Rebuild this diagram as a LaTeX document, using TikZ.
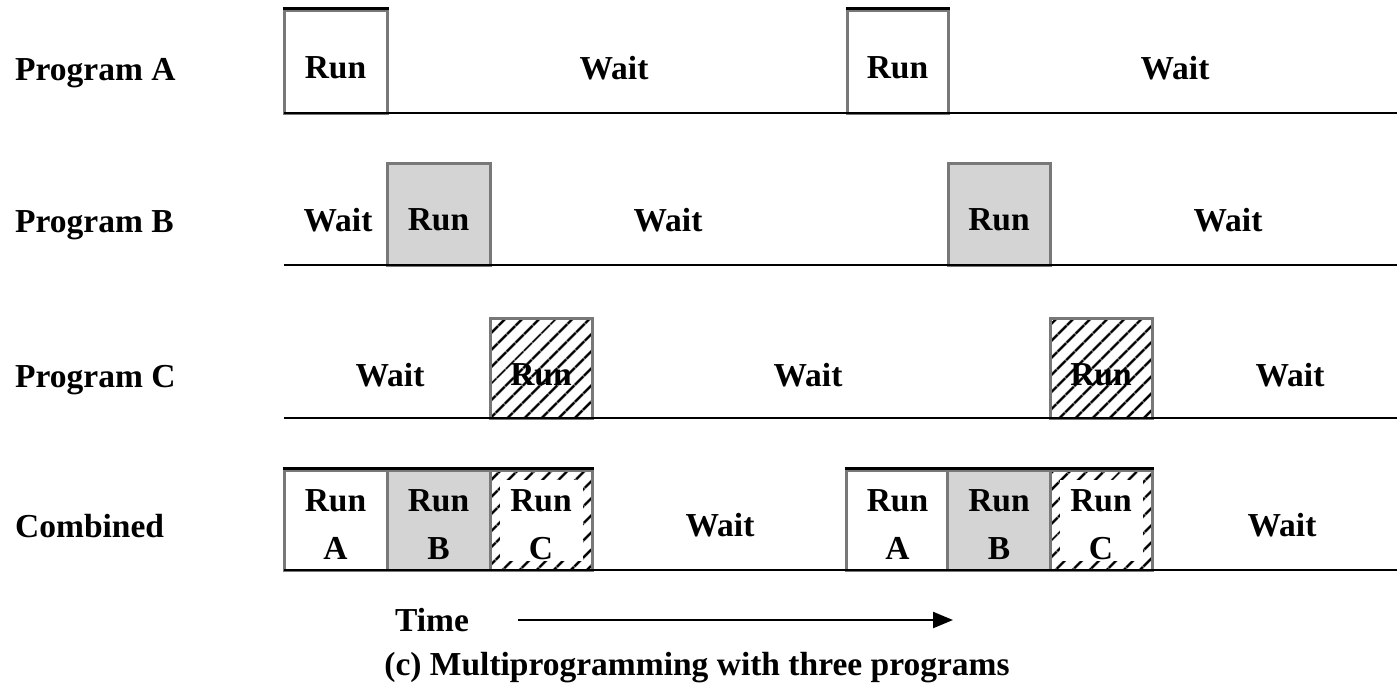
\documentclass[tikz,border=0pt]{standalone}
\usepackage{fontspec}
\setmainfont{Liberation Serif}
\usetikzlibrary{patterns.meta,arrows.meta}
\definecolor{edgegray}{RGB}{120,120,120}
\definecolor{fillgray}{RGB}{212,212,212}
\begin{document}
\begin{tikzpicture}[x=1pt,y=-1pt,
  lbl/.style={font=\fontsize{33.5}{48}\selectfont\bfseries, inner sep=0pt, align=center},
  runbox/.style={draw=edgegray, line width=3pt, minimum height=102pt, minimum width=103pt, inner sep=0pt},
  graybox/.style={runbox, fill=fillgray},
  hatchbox/.style={runbox, pattern={Lines[angle=45,distance=13pt,line width=2.8pt]}},
  base/.style={line width=2.5pt, black},
  topline/.style={line width=3.5pt, black}
]
\useasboundingbox (0,0) rectangle (1397,697);

% row labels
\node[lbl, anchor=base west] (la) at (15,80) {Program A};
\node[lbl, anchor=base west] (lb) at (15,232) {Program B};
\node[lbl, anchor=base west] (lc) at (15,387) {Program C};
\node[lbl, anchor=base west] (ld) at (15,537) {Combined};

% Row A
\node[runbox, minimum height=103pt] (a1) at (335.5,61.5) {};
\node[runbox, minimum height=103pt, minimum width=101pt] (a2) at (897.5,61.5) {};
\draw[topline] (a1.north west) -- (a1.north east);
\draw[topline] (a2.north west) -- (a2.north east);
\node[lbl] (a1t) at (335.5,68) {Run};
\node[lbl] (a2t) at (897.5,68) {Run};
\coordinate (aL) at (284,113);
\coordinate (aR) at (1397,113);
\draw[base] (aL) -- (aR);
\node[lbl] (aw1) at (614,68) {Wait};
\node[lbl] (aw2) at (1175,68) {Wait};

% Row B
\node[graybox] (b1) at (438.5,214) {};
\node[graybox, minimum width=102pt] (b2) at (999,214) {};
\node[lbl] (b1t) at (438.5,220) {Run};
\node[lbl] (b2t) at (999,220) {Run};
\coordinate (bL) at (284,265);
\coordinate (bR) at (1397,265);
\draw[base] (bL) -- (bR);
\node[lbl] (bw0) at (338,220) {Wait};
\node[lbl] (bw1) at (668,220) {Wait};
\node[lbl] (bw2) at (1228,220) {Wait};

% Row C
\node[hatchbox, minimum height=100pt, minimum width=102pt] (c1) at (541,368) {};
\node[hatchbox, minimum height=100pt, minimum width=102pt] (c2) at (1101,368) {};
\node[lbl] (c1t) at (541,375) {Run};
\node[lbl] (c2t) at (1101,375) {Run};
\coordinate (cL) at (284,418);
\coordinate (cR) at (1397,418);
\draw[base] (cL) -- (cR);
\node[lbl] (cw0) at (390,375) {Wait};
\node[lbl] (cw1) at (808,375) {Wait};
\node[lbl] (cw2) at (1290,375) {Wait};

% Combined
\foreach \i/\x in {1/335.5, 4/897.5} {
  \node[runbox, minimum height=100pt] (d\i) at (\x,520) {};
  \node[lbl] (d\i t) at (\x,525) {Run\\A};
}
\foreach \i/\x in {2/438.5, 5/999} {
  \node[graybox, minimum height=100pt] (d\i) at (\x,520) {};
  \node[lbl] (d\i t) at (\x,525) {Run\\B};
}
\foreach \i/\x in {3/541, 6/1101} {
  \node[hatchbox, minimum height=100pt, minimum width=102pt] (d\i) at (\x,520) {};
  \fill[white] ([shift={(11,11)}]d\i.north west) rectangle ([shift={(-11,-11)}]d\i.south east);
  \node[lbl] (d\i t) at (\x,525) {Run\\C};
}
\draw[topline] (d1.north west) -- (d3.north east);
\draw[topline] (d4.north west) -- (d6.north east);
\coordinate (dL) at (284,570);
\coordinate (dR) at (1397,570);
\draw[base] (dL) -- (dR);
\node[lbl] (dw1) at (720,525) {Wait};
\node[lbl] (dw2) at (1282,525) {Wait};

% Time arrow
\node[lbl] (time) at (432,620) {Time};
\coordinate (ts) at (518,620);
\coordinate (te) at (953,620);
\draw[line width=2.2pt, -{Triangle[length=20pt,width=16pt]}] (ts) -- (te);

% caption
\node[lbl] (cap) at (697,668) {(c) Multiprogramming with three programs};
\end{tikzpicture}
\end{document}
